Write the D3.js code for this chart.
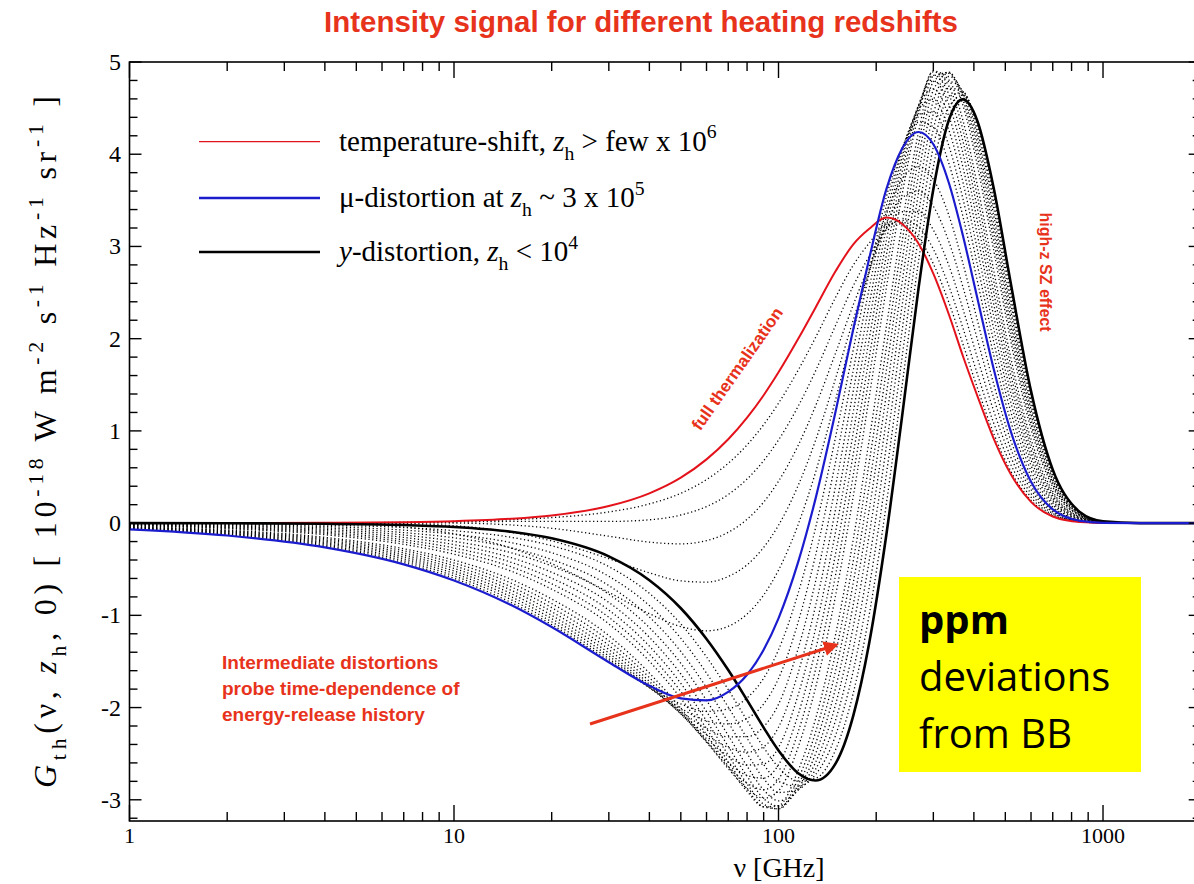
<!doctype html>
<html>
<head>
<meta charset="utf-8">
<script src="https://cdn.jsdelivr.net/npm/d3@7"></script>
<style>
  body { margin: 0; background: #fff; }
</style>
</head>
<body>
<svg id="chart" width="1194" height="884" font-family="'Liberation Serif','Times New Roman',serif"></svg>
<script>
// frequency grid [GHz]
var nu = [1, 2, 4, 7, 10, 15, 20, 30, 40, 50, 60, 70, 80, 90, 100, 115, 130, 150, 170, 190,
          215, 240, 270, 300, 335, 370, 410, 460, 520, 600, 700, 850, 1000, 1300, 2000];

// solid curves
var tempShift = [0.0002, 0.0008, 0.0034, 0.010, 0.021, 0.047, 0.083, 0.185, 0.323, 0.493, 0.691, 0.909, 1.144, 1.387, 1.635, 1.998, 2.336, 2.733, 3.023, 3.189,
                 3.313, 3.247, 3.033, 2.705, 2.262, 1.812, 1.38, 0.92, 0.53, 0.23, 0.072, 0.011, 0.0015, 0, 0];
var muDist = [-0.067, -0.134, -0.263, -0.447, -0.622, -0.889, -1.127, -1.508, -1.764, -1.900, -1.921, -1.829, -1.644, -1.373, -1.032, -0.421, 0.263, 1.212, 2.105, 2.858,
              3.621, 4.056, 4.241, 4.108, 3.688, 3.119, 2.438, 1.677, 0.992, 0.448, 0.148, 0.024, 0.003, 0, 0];
var yDist = [-0.0004, -0.0017, -0.0067, -0.021, -0.042, -0.094, -0.165, -0.361, -0.619, -0.923, -1.256, -1.593, -1.919, -2.217, -2.465, -2.712, -2.791, -2.605, -2.087, -1.313,
             -0.123, 1.142, 2.543, 3.620, 4.371, 4.595, 4.361, 3.640, 2.595, 1.431, 0.578, 0.118, 0.020, 0.0004, 0];

// dotted curves between temperature shift and mu
var midT1 = [0, 0, -0.005, -0.043, -0.115, -0.271, -0.44, -0.75, -0.982, -1.122, -1.168, -1.119, -0.986, -0.78, -0.51, -0.014, 0.549, 1.342, 2.091, 2.723,
             3.367, 3.726, 3.865, 3.727, 3.337, 2.818, 2.2, 1.513, 0.894, 0.404, 0.133, 0.022, 0.003, 0, 0];
var midT2 = [0, 0, 0, -0.005, -0.028, -0.099, -0.193, -0.386, -0.539, -0.626, -0.64, -0.579, -0.452, -0.263, -0.023, 0.409, 0.895, 1.572, 2.203, 2.724,
             3.252, 3.524, 3.6, 3.436, 3.051, 2.562, 1.992, 1.364, 0.804, 0.362, 0.119, 0.02, 0.0025, 0, 0];
var midT3 = [0.0001, 0.0004, 0.0017, 0.004, 0.001, -0.02, -0.056, -0.142, -0.206, -0.225, -0.19, -0.1, 0.041, 0.228, 0.454, 0.844, 1.269, 1.846, 2.368, 2.783,
             3.195, 3.376, 3.379, 3.18, 2.792, 2.325, 1.794, 1.22, 0.715, 0.32, 0.105, 0.018, 0.002, 0, 0];
var midT4 = [0.0001, 0.0005, 0.0023, 0.007, 0.012, 0.018, 0.018, 0.018, 0.036, 0.088, 0.18, 0.31, 0.478, 0.677, 0.901, 1.268, 1.648, 2.146, 2.573, 2.89,
             3.193, 3.284, 3.211, 2.971, 2.57, 2.116, 1.617, 1.089, 0.633, 0.281, 0.091, 0.015, 0.002, 0, 0];
var midT5 = [0.0002, 0.0007, 0.003, 0.0088, 0.018, 0.037, 0.06, 0.121, 0.208, 0.324, 0.472, 0.648, 0.848, 1.067, 1.3, 1.659, 2.011, 2.449, 2.798, 3.032,
             3.237, 3.244, 3.097, 2.812, 2.392, 1.943, 1.467, 0.976, 0.561, 0.247, 0.079, 0.013, 0.002, 0, 0];

// dotted curves between mu and y (ordered from the mu side to the y side)
var midY01 = [-0.063, -0.127, -0.250, -0.428, -0.598, -0.861, -1.100, -1.492, -1.779, -1.961, -2.042, -2.015, -1.896, -1.682, -1.374, -0.758, -0.054, 0.937, 1.882, 2.700,
              3.539, 4.062, 4.346, 4.296, 3.899, 3.327, 2.624, 1.828, 1.100, 0.508, 0.173, 0.029, 0.004, 0, 0];
var midY02 = [-0.060, -0.119, -0.237, -0.408, -0.572, -0.830, -1.070, -1.470, -1.785, -2.009, -2.144, -2.178, -2.119, -1.961, -1.685, -1.071, -0.353, 0.669, 1.659, 2.533,
              3.442, 4.048, 4.428, 4.459, 4.090, 3.520, 2.800, 1.974, 1.205, 0.567, 0.198, 0.034, 0.005, 0, 0];
var midY03 = [-0.056, -0.112, -0.223, -0.387, -0.546, -0.798, -1.036, -1.442, -1.782, -2.043, -2.227, -2.317, -2.315, -2.208, -1.965, -1.359, -0.635, 0.409, 1.434, 2.357,
              3.330, 4.015, 4.486, 4.596, 4.260, 3.698, 2.967, 2.115, 1.308, 0.626, 0.223, 0.040, 0.006, 0, 0];
var midY04 = [-0.052, -0.105, -0.210, -0.366, -0.519, -0.764, -1.000, -1.409, -1.769, -2.063, -2.292, -2.433, -2.483, -2.425, -2.214, -1.621, -0.900, 0.156, 1.208, 2.173,
              3.204, 3.961, 4.520, 4.708, 4.410, 3.862, 3.125, 2.251, 1.409, 0.684, 0.247, 0.045, 0.007, 0, 0];
var midY05 = [-0.049, -0.097, -0.196, -0.345, -0.491, -0.728, -0.960, -1.370, -1.747, -2.070, -2.338, -2.526, -2.623, -2.611, -2.433, -1.860, -1.147, -0.089, 0.981, 1.980,
              3.062, 3.888, 4.532, 4.795, 4.540, 4.011, 3.273, 2.383, 1.508, 0.741, 0.272, 0.050, 0.008, 0, 0];
var midY06 = [-0.045, -0.090, -0.182, -0.323, -0.462, -0.691, -0.917, -1.326, -1.716, -2.063, -2.366, -2.595, -2.736, -2.765, -2.621, -2.074, -1.377, -0.327, 0.752, 1.779,
              2.906, 3.796, 4.519, 4.856, 4.649, 4.144, 3.412, 2.509, 1.604, 0.798, 0.296, 0.055, 0.009, 0, 0];
var midY07 = [-0.041, -0.083, -0.168, -0.300, -0.432, -0.651, -0.872, -1.276, -1.675, -2.043, -2.376, -2.641, -2.821, -2.890, -2.778, -2.263, -1.590, -0.558, 0.522, 1.569,
              2.736, 3.683, 4.484, 4.893, 4.738, 4.264, 3.542, 2.631, 1.699, 0.854, 0.320, 0.061, 0.010, 0, 0];
var midY08 = [-0.037, -0.075, -0.154, -0.277, -0.401, -0.610, -0.823, -1.220, -1.626, -2.009, -2.366, -2.662, -2.877, -2.983, -2.903, -2.427, -1.786, -0.781, 0.291, 1.350,
              2.550, 3.551, 4.425, 4.903, 4.806, 4.368, 3.663, 2.747, 1.791, 0.910, 0.344, 0.066, 0.011, 0, 0];
var midY09 = [-0.030, -0.061, -0.126, -0.230, -0.337, -0.521, -0.716, -1.093, -1.498, -1.900, -2.292, -2.636, -2.908, -3.076, -3.063, -2.681, -2.125, -1.205, -0.175, 0.887,
              2.134, 3.227, 4.236, 4.849, 4.882, 4.532, 3.877, 2.965, 1.969, 1.019, 0.392, 0.076, 0.012, 0, 0];
var midY10 = [-0.026, -0.053, -0.111, -0.205, -0.303, -0.474, -0.658, -1.021, -1.421, -1.826, -2.228, -2.588, -2.882, -3.077, -3.096, -2.772, -2.269, -1.406, -0.409, 0.642,
              1.904, 3.036, 4.107, 4.784, 4.890, 4.592, 3.970, 3.067, 2.055, 1.073, 0.416, 0.081, 0.013, 0, 0];
var midY11 = [-0.023, -0.046, -0.097, -0.181, -0.269, -0.425, -0.597, -0.943, -1.334, -1.738, -2.144, -2.516, -2.827, -3.047, -3.098, -2.837, -2.395, -1.599, -0.645, 0.388,
              1.658, 2.824, 3.953, 4.694, 4.877, 4.636, 4.053, 3.164, 2.139, 1.126, 0.439, 0.087, 0.014, 0, 0];
var midY12 = [-0.019, -0.039, -0.082, -0.155, -0.233, -0.375, -0.533, -0.860, -1.238, -1.636, -2.043, -2.421, -2.745, -2.986, -3.070, -2.878, -2.504, -1.785, -0.882, 0.127,
              1.399, 2.593, 3.777, 4.578, 4.843, 4.666, 4.128, 3.255, 2.220, 1.178, 0.463, 0.092, 0.015, 0, 0];
var midY13 = [-0.015, -0.031, -0.067, -0.129, -0.197, -0.322, -0.465, -0.771, -1.133, -1.520, -1.922, -2.302, -2.636, -2.893, -3.011, -2.894, -2.596, -1.964, -1.121, -0.144,
              1.124, 2.343, 3.577, 4.437, 4.789, 4.682, 4.193, 3.342, 2.299, 1.230, 0.486, 0.097, 0.016, 0, 0];
var midY14 = [-0.012, -0.024, -0.052, -0.103, -0.159, -0.268, -0.395, -0.677, -1.018, -1.392, -1.784, -2.160, -2.498, -2.771, -2.921, -2.886, -2.671, -2.135, -1.360, -0.423,
              0.835, 2.072, 3.354, 4.271, 4.716, 4.682, 4.249, 3.424, 2.376, 1.281, 0.509, 0.102, 0.017, 0, 0];
var midY15 = [-0.008, -0.016, -0.037, -0.076, -0.121, -0.212, -0.321, -0.577, -0.894, -1.249, -1.626, -1.995, -2.333, -2.617, -2.800, -2.853, -2.728, -2.300, -1.601, -0.711,
              0.530, 1.782, 3.107, 4.079, 4.621, 4.668, 4.296, 3.501, 2.452, 1.332, 0.532, 0.108, 0.018, 0, 0];
var midY16 = [-0.004, -0.009, -0.022, -0.048, -0.082, -0.154, -0.245, -0.472, -0.762, -1.093, -1.451, -1.806, -2.140, -2.433, -2.648, -2.795, -2.768, -2.456, -1.843, -1.008,
              0.211, 1.472, 2.837, 3.862, 4.506, 4.639, 4.333, 3.573, 2.524, 1.382, 0.555, 0.113, 0.019, 0, 0];

var xMajor = [1, 10, 100, 1000];
var yMajor = [-3, -2, -1, 0, 1, 2, 3, 4, 5];

var svg = d3.select("#chart");
var plotLeft = 129.5, plotRight = 1200.7, plotTop = 62, plotBottom = 821;

var x = d3.scaleLog().domain([1, 2000]).range([plotLeft, plotRight]);
var y = d3.scaleLinear().domain([-3.23, 5]).range([plotBottom, plotTop]);

var red = "#e3121b", blue = "#1c1ccf", annot = "#e8331c";
var sans = "'Liberation Sans',Arial,sans-serif";

// title
svg.append("text")
  .attr("x", 641).attr("y", 32)
  .attr("text-anchor", "middle")
  .attr("font-family", "'Liberation Sans Narrow','Liberation Sans',Arial,sans-serif")
  .attr("font-weight", "bold").attr("font-size", 30)
  .attr("fill", annot)
  .attr("textLength", 634).attr("lengthAdjust", "spacingAndGlyphs")
  .text("Intensity signal for different heating redshifts");

svg.append("clipPath").attr("id", "plotclip")
  .append("rect").attr("x", plotLeft).attr("y", plotTop)
  .attr("width", plotRight - plotLeft).attr("height", plotBottom - plotTop);

var line = d3.line()
  .x(function(d, i) { return x(nu[i]); })
  .y(function(d) { return y(d); })
  .curve(d3.curveMonotoneX);

var plot = svg.append("g").attr("clip-path", "url(#plotclip)");

var dotted = [midT1, midT2, midT3, midT4, midT5,
              midY01, midY02, midY03, midY04, midY05, midY06, midY07, midY08,
              midY09, midY10, midY11, midY12, midY13, midY14, midY15, midY16];
plot.selectAll("path.dot").data(dotted).enter().append("path")
  .attr("class", "dot")
  .attr("d", line)
  .attr("fill", "none")
  .attr("stroke", "#000")
  .attr("stroke-width", 1.3)
  .attr("stroke-dasharray", "1.2 2.6");

plot.append("path").attr("d", line(tempShift)).attr("fill", "none").attr("stroke", red).attr("stroke-width", 2);
plot.append("path").attr("d", line(yDist)).attr("fill", "none").attr("stroke", "#000").attr("stroke-width", 2.6);
plot.append("path").attr("d", line(muDist)).attr("fill", "none").attr("stroke", blue).attr("stroke-width", 2.2);

// frame and ticks
svg.append("rect").attr("x", plotLeft).attr("y", plotTop)
  .attr("width", plotRight - plotLeft).attr("height", plotBottom - plotTop)
  .attr("fill", "none").attr("stroke", "#000").attr("stroke-width", 1.6);

var xMinor = x.ticks().filter(function(v) { return xMajor.indexOf(v) < 0; });
var yMinor = y.ticks(40).filter(function(v) { return Math.abs(v - Math.round(v)) > 0.01; });

var ticks = svg.append("g").attr("stroke", "#000").attr("stroke-width", 1.4);
function xTick(vals, len) {
  vals.forEach(function(v) {
    ticks.append("line").attr("x1", x(v)).attr("x2", x(v)).attr("y1", plotBottom).attr("y2", plotBottom - len);
    ticks.append("line").attr("x1", x(v)).attr("x2", x(v)).attr("y1", plotTop).attr("y2", plotTop + len);
  });
}
function yTick(vals, len) {
  vals.forEach(function(v) {
    ticks.append("line").attr("x1", plotLeft).attr("x2", plotLeft + len).attr("y1", y(v)).attr("y2", y(v));
    ticks.append("line").attr("x1", plotRight).attr("x2", plotRight - len).attr("y1", y(v)).attr("y2", y(v));
  });
}
xTick(xMajor, 16);
xTick(xMinor, 9);
yTick(yMajor, 12);
yTick(yMinor, 8);

svg.append("g").selectAll("text").data(xMajor).enter().append("text")
  .attr("x", function(d) { return x(d); }).attr("y", 843)
  .attr("text-anchor", "middle").attr("font-size", 22)
  .text(function(d) { return d; });

svg.append("g").selectAll("text").data(yMajor).enter().append("text")
  .attr("x", 121).attr("y", function(d) { return y(d) + 8; })
  .attr("text-anchor", "end").attr("font-size", 24)
  .text(function(d) { return d; });

// rich text helper: [text, style] where style is "", "i", "sub", "sup"
function rich(sel, parts, base) {
  var shift = 0;
  parts.forEach(function(p) {
    var ts = sel.append("tspan").text(p[0]);
    var target = p[1] === "sub" ? base * 0.32 : p[1] === "sup" ? -base * 0.42 : 0;
    if (target !== shift) { ts.attr("dy", target - shift); shift = target; }
    if (p[1] === "sub" || p[1] === "sup") ts.attr("font-size", base * 0.68);
    if (p[1] === "i") ts.attr("font-style", "italic");
  });
}

// axis labels
var xl = svg.append("text").attr("x", 779).attr("y", 877).attr("text-anchor", "middle").attr("font-size", 28);
rich(xl, [["\u03bd [GHz]", ""]], 28);

var yl = svg.append("text").attr("transform", "translate(56,442) rotate(-90)")
  .attr("text-anchor", "middle").attr("font-size", 32)
  .attr("textLength", 692).attr("lengthAdjust", "spacing");
rich(yl, [["G", "i"], ["th", "sub"], ["(\u03bd, ", ""], ["z", "i"], ["h", "sub"], [", 0)  [ 10", ""], ["-18", "sup"],
          [" W m", ""], ["-2", "sup"], [" s", ""], ["-1", "sup"], [" Hz", ""], ["-1", "sup"], [" sr", ""], ["-1", "sup"], [" ]", ""]], 32);

// legend
var legend = [
  { color: red, w: 1.2, y: 141.6, parts: [["temperature-shift, ", ""], ["z", "i"], ["h", "sub"], [" > few x 10", ""], ["6", "sup"]] },
  { color: blue, w: 2.4, y: 198, parts: [["\u03bc-distortion at ", ""], ["z", "i"], ["h", "sub"], [" ~ 3 x 10", ""], ["5", "sup"]] },
  { color: "#000", w: 2.4, y: 252, parts: [["y", "i"], ["-distortion, ", ""], ["z", "i"], ["h", "sub"], [" < 10", ""], ["4", "sup"]] }
];
legend.forEach(function(l) {
  svg.append("line").attr("x1", 199).attr("x2", 320).attr("y1", l.y).attr("y2", l.y)
    .attr("stroke", l.color).attr("stroke-width", l.w);
  var t = svg.append("text").attr("x", 339).attr("y", l.y + 9).attr("font-size", 29);
  rich(t, l.parts, 29);
});

// annotations
svg.append("text").attr("transform", "translate(742,372) rotate(-55)")
  .attr("text-anchor", "middle").attr("font-family", sans).attr("font-weight", "bold")
  .attr("font-size", 17).attr("fill", annot).text("full thermalization");

svg.append("text").attr("transform", "translate(1040,272) rotate(90)")
  .attr("text-anchor", "middle").attr("font-family", sans).attr("font-weight", "bold")
  .attr("font-size", 16).attr("fill", annot).text("high-z SZ effect");

var note = svg.append("text").attr("font-family", sans).attr("font-weight", "bold")
  .attr("font-size", 19).attr("fill", annot);
["Intermediate distortions", "probe time-dependence of", "energy-release history"].forEach(function(s, i) {
  note.append("tspan").attr("x", 222).attr("y", 669 + i * 26).text(s);
});

svg.append("defs").append("marker").attr("id", "head")
  .attr("viewBox", "0 0 10 10").attr("refX", 8).attr("refY", 5)
  .attr("markerWidth", 5).attr("markerHeight", 5).attr("orient", "auto")
  .append("path").attr("d", "M0,0 L10,5 L0,10 z").attr("fill", annot);
svg.append("line").attr("x1", 590).attr("y1", 724).attr("x2", 836).attr("y2", 645)
  .attr("stroke", annot).attr("stroke-width", 3).attr("marker-end", "url(#head)");

// yellow box
svg.append("rect").attr("x", 899).attr("y", 577).attr("width", 242).attr("height", 195).attr("fill", "#ffff00");
var box = svg.append("text").attr("font-family", "'Open Sans','Noto Sans',sans-serif").attr("font-size", 40).attr("fill", "#000");
box.append("tspan").attr("x", 919).attr("y", 634).attr("font-weight", "bold").text("ppm");
box.append("tspan").attr("x", 919).attr("y", 691).text("deviations");
box.append("tspan").attr("x", 919).attr("y", 748).text("from BB");
</script>
</body>
</html>
